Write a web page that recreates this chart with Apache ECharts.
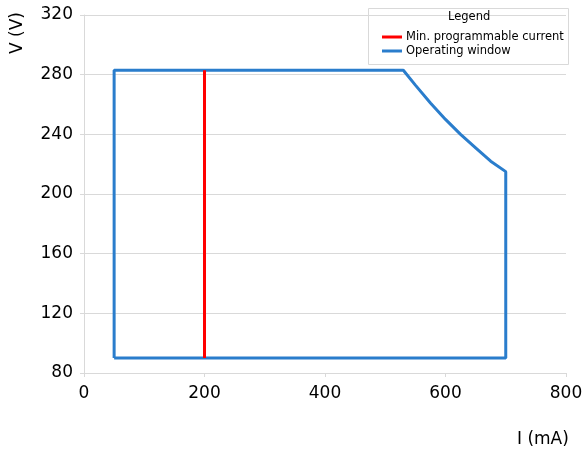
<!DOCTYPE html>
<html><head><meta charset="utf-8">
<script src="https://cdn.jsdelivr.net/npm/echarts@6/dist/echarts.min.js"></script>
<style>html,body{margin:0;padding:0;background:#fff}#c{width:587px;height:457px}</style>
</head><body><div id="c"></div>
<script>
const seriesNames = ['Min. programmable current', 'Operating window'];
// Min. programmable current line: [I (mA), V (V)]
const minCurrentI = [200, 200];
const minCurrentV = [90, 283];
// Operating window polygon outline
const windowI = [50, 50, 530, 550, 575, 600, 625, 650, 675, 700, 700, 50];
const windowV = [90, 283, 283, 273, 261, 250, 240, 231, 222, 215, 90, 90];
const xTicks = [0, 200, 400, 600, 800];
const yTicks = [80, 120, 160, 200, 240, 280, 320];

const font = 'DejaVu Sans';
const chart = echarts.init(document.getElementById('c'), null, {renderer: 'canvas'});
chart.setOption({
  animation: false,
  backgroundColor: '#fff',
  textStyle: {fontFamily: font},
  grid: {left: 84, right: 21, top: 15, bottom: 84, containLabel: false},
  xAxis: {
    type: 'value', min: xTicks[0], max: xTicks[xTicks.length - 1], interval: 200,
    axisLine: {show: true, lineStyle: {color: '#d9d9d9'}},
    axisTick: {show: true, length: 4, lineStyle: {color: '#d9d9d9'}},
    splitLine: {show: false},
    axisLabel: {color: '#000', fontSize: 17, margin: 12, fontFamily: font}
  },
  yAxis: {
    type: 'value', min: yTicks[0], max: yTicks[yTicks.length - 1], interval: 40,
    axisLine: {show: true, lineStyle: {color: '#d9d9d9'}},
    axisTick: {show: true, length: 4, lineStyle: {color: '#d9d9d9'}},
    splitLine: {show: true, lineStyle: {color: '#d9d9d9'}},
    axisLabel: {color: '#000', fontSize: 17, margin: 11, fontFamily: font}
  },
  legend: {
    orient: 'vertical', left: 377, top: 26, itemGap: 2,
    icon: 'rect', itemWidth: 20, itemHeight: 3,
    textStyle: {fontSize: 11.5, color: '#000', fontFamily: font, padding: [0, 0, 0, -1]},
    data: seriesNames
  },
  graphic: [
    {type: 'rect', left: 368, top: 8, shape: {width: 200, height: 56},
     style: {fill: 'rgba(255,255,255,0)', stroke: '#d9d9d9', lineWidth: 1}, z: 100},
    {type: 'text', left: 448, top: 11, style: {text: 'Legend', fontSize: 11.5, fill: '#000', fontFamily: font}, z: 101},
    {type: 'text', left: 9, top: 12, rotation: Math.PI / 2,
     style: {text: 'V (V)', fontSize: 17, fill: '#000', fontFamily: font}},
    {type: 'text', left: 517, top: 431, style: {text: 'I (mA)', fontSize: 17, fill: '#000', fontFamily: font}}
  ],
  series: [
    {name: seriesNames[0], type: 'line', symbol: 'none', color: '#ff0000',
     lineStyle: {width: 3, color: '#ff0000'}, z: 3,
     data: minCurrentI.map((x, i) => [x, minCurrentV[i]])},
    {name: seriesNames[1], type: 'line', symbol: 'none', color: '#2a7dcc',
     lineStyle: {width: 3, color: '#2a7dcc'}, z: 2,
     data: windowI.map((x, i) => [x, windowV[i]])}
  ]
});
</script></body></html>
